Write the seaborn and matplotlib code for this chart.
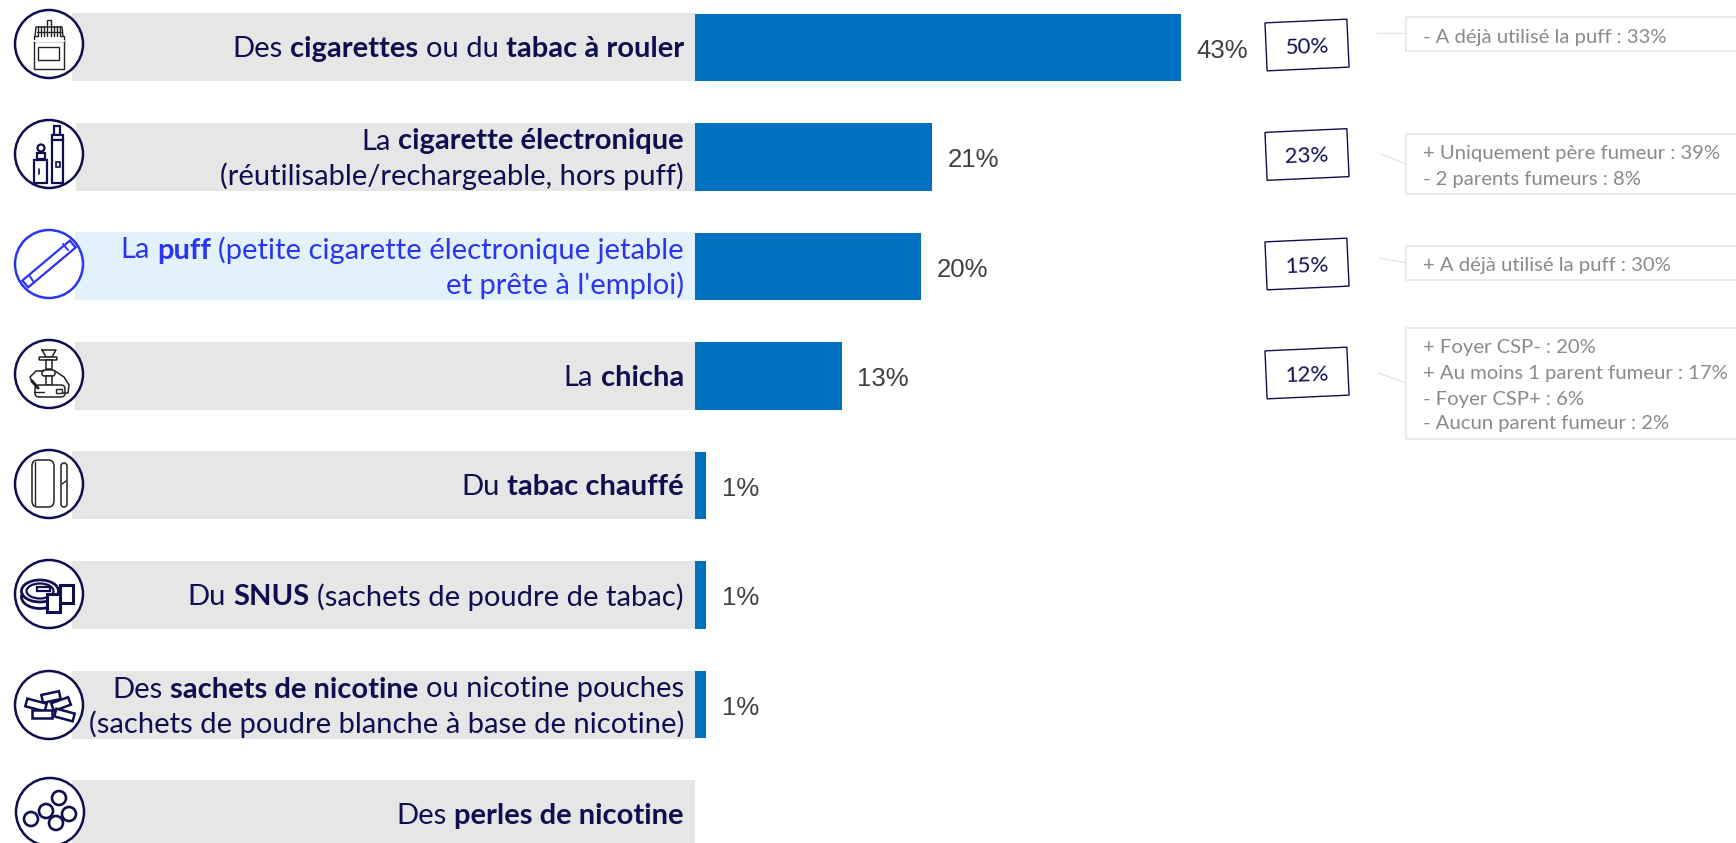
import matplotlib
matplotlib.use("Agg")
import matplotlib.pyplot as plt
from matplotlib.patches import Circle, Rectangle, FancyBboxPatch, Ellipse
from matplotlib.transforms import Affine2D
import pandas as pd
import seaborn as sns

# data
products = ["cigarettes", "ecig", "puff", "chicha", "chauffe", "snus", "sachets", "perles"]
values = [43, 21, 20, 13, 1, 1, 1, 0]
value_labels = ["43%", "21%", "20%", "13%", "1%", "1%", "1%", ""]
previous = ["50%", "23%", "15%", "12%"]
callouts = [
    ["- A déjà utilisé la puff : 33%"],
    ["+ Uniquement père fumeur : 39%", "- 2 parents fumeurs : 8%"],
    ["+ A déjà utilisé la puff : 30%"],
    ["+ Foyer CSP- : 20%", "+ Au moins 1 parent fumeur : 17%", "- Foyer CSP+ : 6%", "- Aucun parent fumeur : 2%"],
]
# each line is a list of (text, bold)
labels = [
    [[("Des ", 0), ("cigarettes", 1), (" ou du ", 0), ("tabac à rouler", 1)]],
    [[("La ", 0), ("cigarette électronique", 1)], [("(réutilisable/rechargeable, hors puff)", 0)]],
    [[("La ", 0), ("puff", 1), (" (petite cigarette électronique jetable", 0)], [("et prête à l'emploi)", 0)]],
    [[("La ", 0), ("chicha", 1)]],
    [[("Du ", 0), ("tabac chauffé", 1)]],
    [[("Du ", 0), ("SNUS", 1), (" (sachets de poudre de tabac)", 0)]],
    [[("Des ", 0), ("sachets de nicotine", 1), (" ou nicotine pouches", 0)],
     [("(sachets de poudre blanche à base de nicotine)", 0)]],
    [[("Des ", 0), ("perles de nicotine", 1)]],
]

NAVY = "#0f0f50"
BLUE = "#2b35f0"
BAR = "#0070c0"
GREY = "#e6e6e6"
LIGHT = "#e3f1fb"
INK = "#222222"
W, H = 1736, 843
X0, PX_PER_PCT = 695, 11.3
Y0, ROW = 47.5, 109.5
LABEL_SIZE = 21

sns.set_theme(style="white")
plt.rcParams["font.family"] = ["Lato", "DejaVu Sans"]

fig = plt.figure(figsize=(W / 100, H / 100), dpi=100)
ax = fig.add_axes([0, 0, 1, 1])
df = pd.DataFrame({"product": products, "value": values})
sns.barplot(data=df, y="product", x="value", color=BAR, saturation=1, width=0.615, orient="h", linewidth=0, ax=ax)
ax.set_xlim(-X0 / PX_PER_PCT, (W - X0) / PX_PER_PCT)
ax.set_ylim((H - Y0) / ROW, -Y0 / ROW)
bar_texts = ax.bar_label(ax.containers[0], labels=value_labels, padding=11, fontsize=18.5,
                         color="#404040", family="Liberation Sans")
for t in bar_texts:
    t.xyann = (t.xyann[0], t.xyann[1] - 2.2)
ax.axis("off")

# overlay in pixels for the decoration around the bars
px = fig.add_axes([0, 0, 1, 1])
px.set_xlim(0, W)
px.set_ylim(H, 0)
px.axis("off")
px.patch.set_alpha(0)
renderer = fig.canvas.get_renderer()


def text_width(s, weight):
    # the x on both sides keeps spaces at the edges of s in the measure
    t = px.text(0, 0, "x" + s + "x", fontsize=LABEL_SIZE, fontweight=weight)
    w = t.get_window_extent(renderer).width
    t.set_text("xx")
    w -= t.get_window_extent(renderer).width
    t.remove()
    return w


band_left = [72, 76, 75, 75, 72, 72, 72, 72]
band_top = [13, 123, 232, 342, 451, 561, 671, 780]
band_bottom = [81, 191, 300, 410, 519, 629, 739, 848]
circle_y = [44, 154, 264, 374, 484, 594, 705, 812]
circle_x = [49, 49, 49, 49, 49, 49, 49, 50]

for i, lines in enumerate(labels):
    hot = i == 2
    px.add_patch(Rectangle((band_left[i], band_top[i]), X0 - band_left[i], band_bottom[i] - band_top[i],
                           fc=LIGHT if hot else GREY, ec="none", zorder=1))
    col = BLUE if hot else NAVY
    mid = (band_top[i] + band_bottom[i]) / 2 + 2
    ys = [mid] if len(lines) == 1 else [mid - 17.5, mid + 17.5]
    for line_runs, y in zip(lines, ys):
        x = 684
        for s, bold in reversed(line_runs):
            weight = "bold" if bold else "normal"
            w = text_width(s, weight)
            lead = len(s) - len(s.lstrip(" "))
            lead_w = text_width(" " * lead, weight) if lead else 0
            px.text(x - w + lead_w, y, s.strip(" "), fontsize=LABEL_SIZE, fontweight=weight, color=col,
                    ha="left", va="center", zorder=5)
            x -= w
    px.add_patch(Circle((circle_x[i], circle_y[i]), 34, fc="white", ec=col, lw=1.8, zorder=2))


def line(xs, ys, cx, cy, color=NAVY, lw=1.2):
    px.plot([cx + v for v in xs], [cy + v for v in ys], color=color, lw=lw, zorder=4, solid_capstyle="round")


def box(x, y, w, h, cx, cy, color=NAVY, lw=1.2, angle=0, rounded=0):
    tr = Affine2D().rotate_deg_around(cx + x + w / 2, cy + y + h / 2, angle) + px.transData
    if rounded:
        p = FancyBboxPatch((cx + x, cy + y), w, h, boxstyle=f"round,pad=0,rounding_size={rounded}",
                           fc="white", ec=color, lw=lw, zorder=4, transform=tr)
    else:
        p = Rectangle((cx + x, cy + y), w, h, fc="white", ec=color, lw=lw, zorder=4, transform=tr)
    px.add_patch(p)


# icon 1 : pack
cx, cy = circle_x[0], circle_y[0]
for dx in [-11, -8, -5, 5, 8, 11]:
    line([dx, dx], [-8, -18], cx, cy, INK, 1.0)
line([-14, -13, 13, 14], [-8, -17, -17, -8], cx, cy, INK, 1.0)
line([-12, 12], [-12, -12], cx, cy, INK, 1.0)
line([-2, -2, 2, 2], [-8, -24, -24, -8], cx, cy, INK, 1.0)
line([-15, -15, -11], [-1, -8, -8], cx, cy, INK, 1.0)
line([15, 15, 11], [-1, -8, -8], cx, cy, INK, 1.0)
box(-15, -3, 30, 28, cx, cy, INK, 1.0)
px.plot([cx - 15, cx + 15], [cy - 3, cy - 3], color="white", lw=1.4, zorder=4.5)
box(-11, 3, 21, 13, cx, cy, INK, 1.0)

# icon 2 : bottle and pen
cx, cy = circle_x[1], circle_y[1]
px.add_patch(Circle((cx - 8, cy - 6), 3.5, fc="white", ec=NAVY, lw=1.6, zorder=4))
box(-12, -1, 8, 6, cx, cy, NAVY, 1.6)
box(-15, 6, 13, 23, cx, cy, NAVY, 1.6)
line([-10, -10], [15, 20], cx, cy, NAVY, 1.2)
box(5, -28, 6, 9, cx, cy, NAVY, 1.6)
box(3, -19, 11, 5, cx, cy, NAVY, 1.6)
box(3, -14, 11, 43, cx, cy, NAVY, 1.6)
box(7, 8, 3.5, 5, cx, cy, NAVY, 1.2)

# icon 3 : puff
cx, cy = circle_x[2], circle_y[2]
box(-4.5, -31, 9, 62, cx, cy, BLUE, 1.6, angle=50)
line([-20, -16], [11, 17], cx, cy, BLUE, 1.4)
line([14, 19], [-20, -14], cx, cy, BLUE, 1.4)

# icon 4 : chicha
cx, cy = circle_x[3], circle_y[3]
line([-7, 7, 3, -3, -7], [-24, -24, -17, -17, -24], cx, cy, INK, 1.1)
box(-10, -17, 18, 3, cx, cy, INK, 1.1, rounded=1)
box(-3, -14, 6, 9, cx, cy, INK, 1.1)
box(-7, -4, 13, 6, cx, cy, INK, 1.1, rounded=2.5)
box(-3, 2, 6, 9, cx, cy, INK, 1.1)
box(-14, 11, 30, 12, cx, cy, INK, 1.1, rounded=4)
line([-15, -5], [18, 18], cx, cy, INK, 1.0)
box(7, 15, 6, 4, cx, cy, INK, 1.0)
line([-5, -13, -19, -17, -13], [-3, -3, 3, 8, 11], cx, cy, INK, 1.1)
line([-17, -11], [7, 14], cx, cy, INK, 2.2)
line([6, 15, 20, 19, 13], [-3, 3, 11, 19, 19], cx, cy, INK, 1.1)

# icon 5 : heated tobacco
cx, cy = circle_x[4], circle_y[4]
box(-17, -24, 22, 47, cx, cy, INK, 1.1, rounded=6)
line([-14, -14], [-22, 21], cx, cy, INK, 1.0)
box(12, -21, 6, 44, cx, cy, INK, 1.1, rounded=3)
line([13, 17], [0, -3], cx, cy, INK, 1.0)

# icon 6 : snus
cx, cy = circle_x[5], circle_y[5]
px.add_patch(Ellipse((cx - 9, cy + 3), 37, 23, fc="white", ec=NAVY, lw=2.0, zorder=3))
px.add_patch(Ellipse((cx - 9, cy - 3), 37, 22, fc="white", ec=NAVY, lw=2.0, zorder=3))
px.add_patch(Ellipse((cx - 9, cy - 3), 27, 15, fc="white", ec=NAVY, lw=1.6, zorder=3))
box(-12, -7, 13, 4, cx, cy, NAVY, 1.6)
box(11, -9, 13, 18, cx, cy, NAVY, 2.2)
box(-2, 0, 13, 18, cx, cy, NAVY, 2.2)

# icon 7 : pouches
cx, cy = circle_x[6], circle_y[6]
box(-7, -12, 18, 8, cx, cy, NAVY, 1.8, angle=-12)
box(3, -5, 18, 8, cx, cy, NAVY, 1.8, angle=-20)
box(-23, -4, 20, 8, cx, cy, NAVY, 1.8, angle=15)
box(-17, 5, 20, 8, cx, cy, NAVY, 1.8)
box(6, 6, 19, 8, cx, cy, NAVY, 1.8, angle=15)

# icon 8 : pearls
cx, cy = circle_x[7], circle_y[7]
for dx, dy in [(-4, -1), (9, -14), (19, 2), (6, 11), (-19, 7)]:
    px.add_patch(Circle((cx + dx, cy + dy), 7, fc="none", ec=NAVY, lw=1.9, zorder=4))

# boxes with the previous wave
box_y = [45, 154.5, 264, 373]
for y, s in zip(box_y, previous):
    tr = Affine2D().rotate_deg_around(1307, y, -2.6) + px.transData
    px.add_patch(Rectangle((1266, y - 24), 82, 48, fc="white", ec=NAVY, lw=1.0, transform=tr, zorder=3))
    px.text(1307, y + 2, s, fontsize=16, color=NAVY, ha="center", va="center", rotation=2, zorder=4)

# callouts
call_top = [17, 134, 246, 328]
call_bottom = [51, 194, 280, 439]
link_from = [(1377, 33), (1381, 154), (1379, 258), (1378, 373)]
link_to = [33, 164, 263, 383]
line_y = [[36], [153, 179], [265], [347, 372, 398, 423]]
for top, bottom, start, end, ys, lines in zip(call_top, call_bottom, link_from, link_to, line_y, callouts):
    px.add_patch(Rectangle((1406, top), 340, bottom - top, fc="white", ec=GREY, lw=1.2, zorder=3))
    px.plot([start[0], 1406], [start[1], end], color=GREY, lw=1.0, zorder=2)
    for y, s in zip(ys, lines):
        px.text(1423, y + 1, s, fontsize=14.6, color="#8a8a8a", ha="left", va="center", zorder=4)

fig.savefig("out.png", dpi=100)
